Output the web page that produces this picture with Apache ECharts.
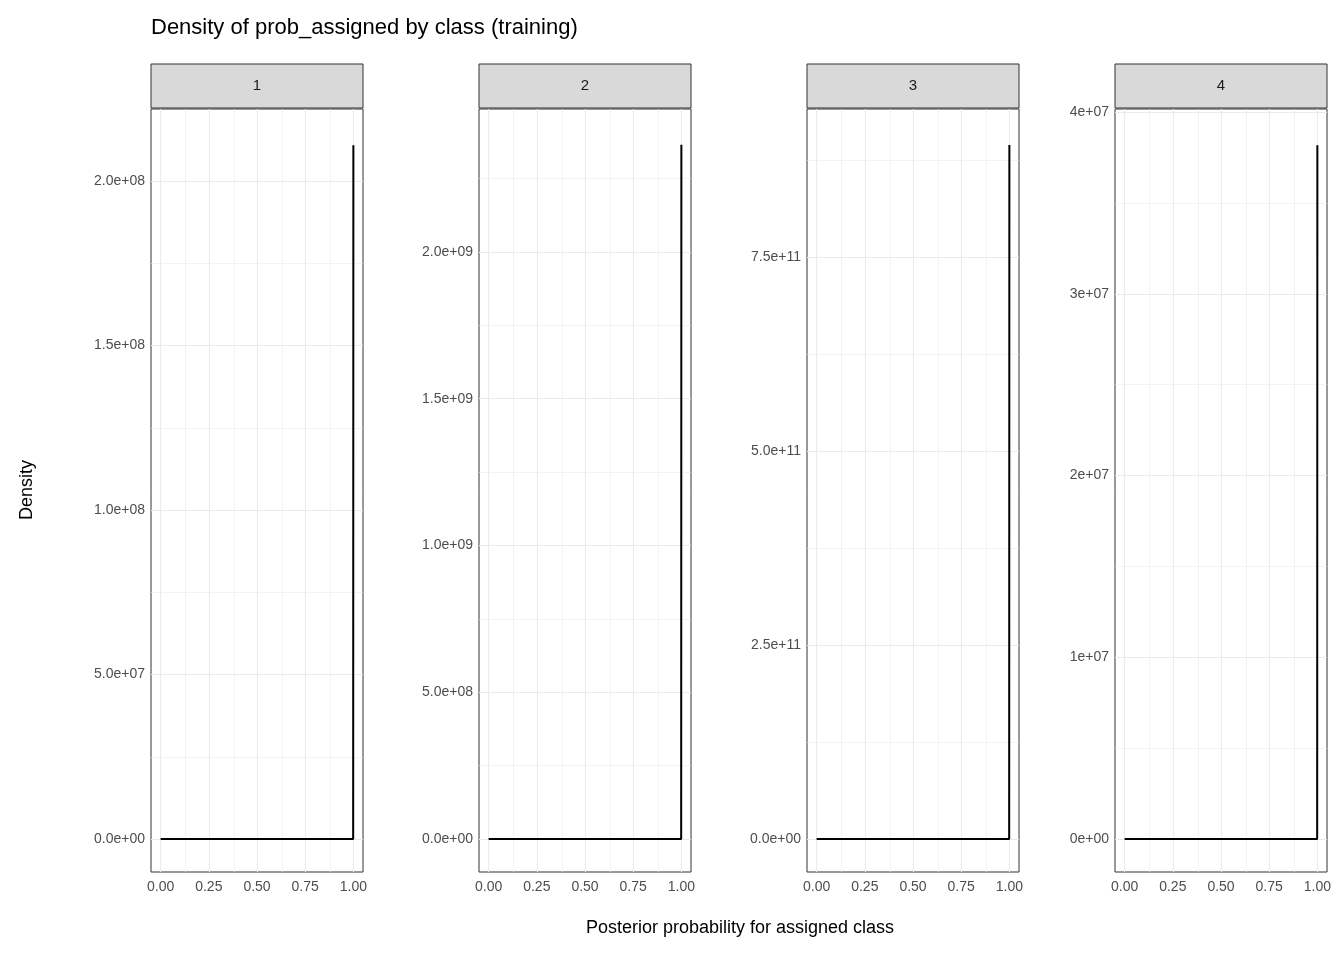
<!DOCTYPE html>
<html>
<head>
<meta charset="utf-8">
<script src="https://cdn.jsdelivr.net/npm/echarts@6/dist/echarts.min.js"></script>
<style>html,body{margin:0;padding:0;background:#fff}#chart{width:1344px;height:960px}</style>
</head>
<body>
<div id="chart"></div>
<script>
var classes = ['1', '2', '3', '4'];
var peaks = [2.109e8, 2.365e9, 8.943e11, 3.818e7];
var yMin = [-1.003e7, -1.124e8, -4.25e10, -1.816e6];
var yMax = [2.219e8, 2.487e9, 9.407e11, 4.017e7];
var yTicks = [
    [0, 5e7, 1e8, 1.5e8, 2e8],
    [0, 5e8, 1e9, 1.5e9, 2e9],
    [0, 2.5e11, 5e11, 7.5e11],
    [0, 1e7, 2e7, 3e7, 4e7]
];
var yLabels = [
    ['0.0e+00', '5.0e+07', '1.0e+08', '1.5e+08', '2.0e+08'],
    ['0.0e+00', '5.0e+08', '1.0e+09', '1.5e+09', '2.0e+09'],
    ['0.0e+00', '2.5e+11', '5.0e+11', '7.5e+11'],
    ['0e+00', '1e+07', '2e+07', '3e+07', '4e+07']
];
var xTicks = [0, 0.25, 0.5, 0.75, 1];
var xLabels = ['0.00', '0.25', '0.50', '0.75', '1.00'];
var xMinor = [0.125, 0.375, 0.625, 0.875];

var lefts = [151, 479, 807, 1115];
var pw = 212, gTop = 109, ph = 763;
var font = 'Liberation Sans, Arial, sans-serif';

var grids = [], xAxes = [], yAxes = [], series = [], graphics = [];
for (var i = 0; i < classes.length; i++) {
    grids.push({left: lefts[i], top: gTop, width: pw, height: ph, show: true,
        borderColor: '#333', borderWidth: 1, backgroundColor: '#fff'});
    xAxes.push({type: 'value', gridIndex: i, min: -0.05, max: 1.05,
        axisLine: {show: false}, splitLine: {show: false},
        axisTick: {show: true, length: 4, lineStyle: {color: '#333'}, customValues: xTicks},
        axisLabel: {customValues: xTicks, formatter: function (v) { return xLabels[xTicks.indexOf(v)] || ''; },
            color: '#4d4d4d', fontSize: 14, fontFamily: font, margin: 8}});
    (function (i) {
        yAxes.push({type: 'value', gridIndex: i, min: yMin[i], max: yMax[i],
            axisLine: {show: false}, splitLine: {show: false},
            axisTick: {show: true, length: 4, lineStyle: {color: '#333'}, customValues: yTicks[i]},
            axisLabel: {customValues: yTicks[i], formatter: function (v) {
                var k = yTicks[i].indexOf(v); return k < 0 ? '' : yLabels[i][k]; },
                color: '#4d4d4d', fontSize: 14, fontFamily: font, margin: 6}});
    })(i);
    var grid = [];
    for (var k = 0; k < yTicks[i].length; k++) {
        grid.push({yAxis: yTicks[i][k], lineStyle: {width: 1.1}});
        var step = yTicks[i][1] - yTicks[i][0];
        var m = yTicks[i][k] + step / 2;
        if (m < yMax[i]) grid.push({yAxis: m, lineStyle: {width: 0.6}});
    }
    xTicks.forEach(function (v) { grid.push({xAxis: v, lineStyle: {width: 1.1}}); });
    xMinor.forEach(function (v) { grid.push({xAxis: v, lineStyle: {width: 0.6}}); });
    series.push({type: 'line', xAxisIndex: i, yAxisIndex: i, showSymbol: false, silent: true,
        data: [[0, 0], [0.999, 0], [1, peaks[i]]],
        lineStyle: {color: '#000', width: 2}, z: 5,
        markLine: {silent: true, symbol: 'none', label: {show: false}, animation: false,
            lineStyle: {color: '#ebebeb', type: 'solid'}, data: grid, z: 1}});
    graphics.push({type: 'rect', shape: {x: lefts[i], y: 64, width: pw, height: 44},
        style: {fill: '#d9d9d9', stroke: '#333', lineWidth: 1}});
    graphics.push({type: 'text', x: lefts[i] + pw / 2, y: 86,
        style: {text: classes[i], fill: '#1a1a1a', fontSize: 15, fontFamily: font, align: 'center', verticalAlign: 'middle'}});
}
graphics.push({type: 'text', x: 151, y: 28, style: {text: 'Density of prob_assigned by class (training)',
    fill: '#000', fontSize: 22, fontFamily: font, verticalAlign: 'middle'}});
graphics.push({type: 'text', x: 740, y: 928, style: {text: 'Posterior probability for assigned class',
    fill: '#000', fontSize: 18, fontFamily: font, align: 'center', verticalAlign: 'middle'}});
graphics.push({type: 'text', x: 27, y: 490, rotation: Math.PI / 2, style: {text: 'Density',
    fill: '#000', fontSize: 18, fontFamily: font, align: 'center', verticalAlign: 'middle'}});

var chart = echarts.init(document.getElementById('chart'));
chart.setOption({animation: false, grid: grids, xAxis: xAxes, yAxis: yAxes, series: series, graphic: graphics});
</script>
</body>
</html>
